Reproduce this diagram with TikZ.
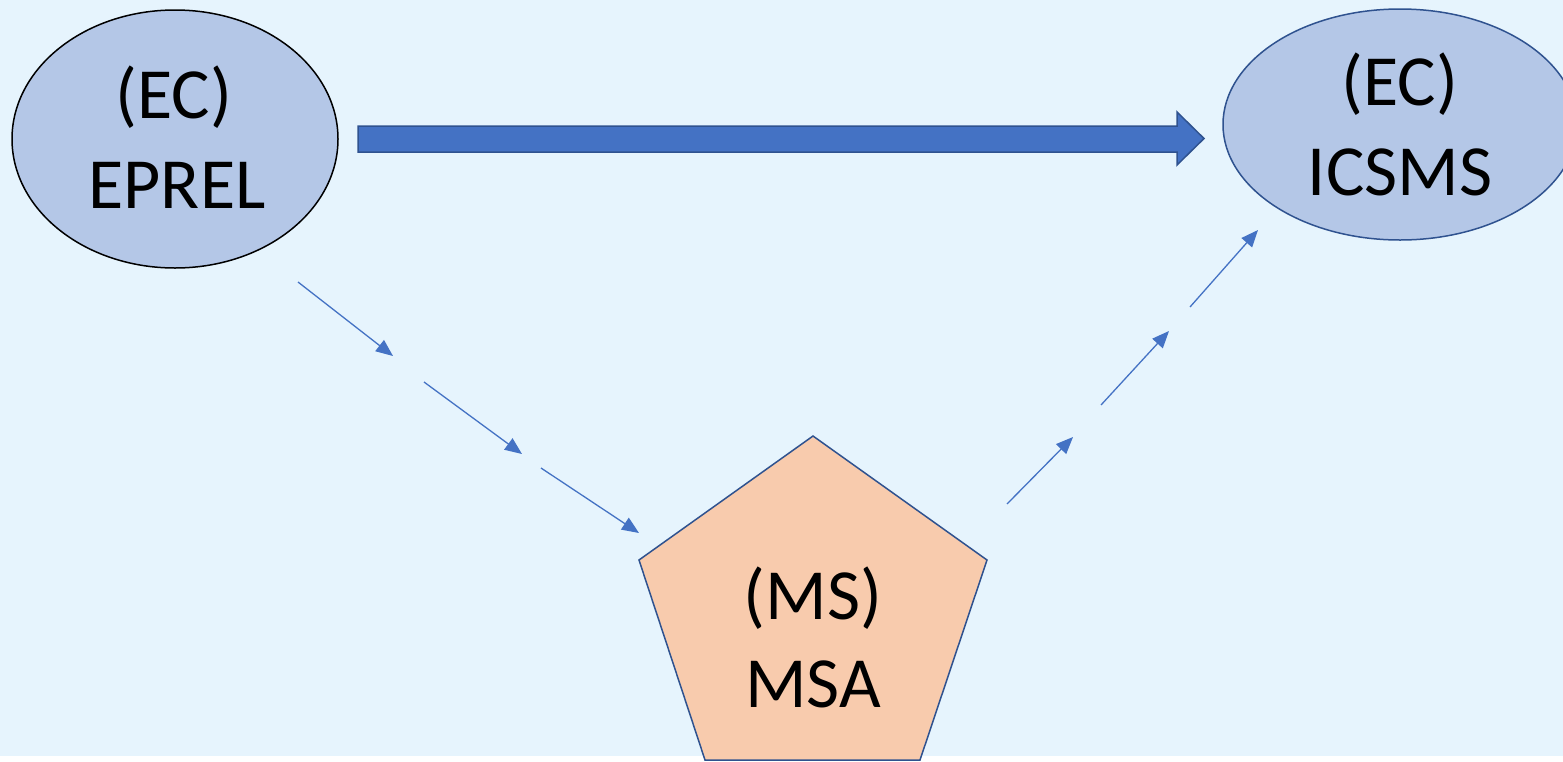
\documentclass[tikz,border=0pt]{standalone}
\usepackage{fontspec}
\setmainfont{Carlito}
\usetikzlibrary{arrows.meta,shapes.geometric}
\definecolor{bgblue}{HTML}{E6F4FD}
\definecolor{ecfill}{HTML}{B4C7E7}
\definecolor{msfill}{HTML}{F8CBAD}
\definecolor{darkline}{HTML}{2F528F}
\definecolor{accent}{HTML}{4472C4}
\tikzset{
  ecnode/.style={ellipse, fill=ecfill, inner sep=0pt, line width=1.5pt},
  lbl/.style={anchor=base, inner sep=0pt, font=\fontsize{72}{90}\selectfont},
  flowseg/.style={draw=accent, line width=1.3pt, -{Triangle[length=17pt,width=14pt]}},
  bigarrow/.style={fill=accent, draw=darkline, line width=1.5pt, line join=miter},
}
\begin{document}
\begin{tikzpicture}[x=1pt,y=-1pt]
\useasboundingbox (0,0) rectangle (1563,761);
\fill[white] (0,0) rectangle (1563,761);
\fill[bgblue] (0,0) rectangle (1563,756);

% nodes
\node[ecnode, draw=black, minimum width=326pt, minimum height=258pt] (eprel) at (175,139) {};
\node[ecnode, draw=darkline, minimum width=354pt, minimum height=231pt] (icsms) at (1400,124.5) {};
\draw[fill=msfill, draw=darkline, line width=1.5pt, line join=miter]
  (813,436) coordinate (pT) -- (987,560) coordinate (pR) -- (920,760) coordinate (pBR)
  -- (705,760) coordinate (pBL) -- (639,560) coordinate (pL) -- cycle;
\coordinate (msa) at (813,600);

% labels
\node[lbl] (eprelA) at (174,118) {(EC)};
\node[lbl] (eprelB) at (177,208) {EPREL};
\node[lbl] (icsmsA) at (1400,105) {(EC)};
\node[lbl] (icsmsB) at (1400,195) {ICSMS};
\node[lbl] (msaA) at (813,619) {(MS)};
\node[lbl] (msaB) at (813,707) {MSA};

% big block arrow EPREL -> ICSMS
\draw[bigarrow] (358,126) -- (1177,126) -- (1177,112) -- (1204,138.5)
  -- (1177,165) -- (1177,152) -- (358,152) -- cycle;

% dashed flow EPREL -> MSA
\coordinate (a1s) at (298,282); \coordinate (a1e) at (393,356);
\coordinate (a2s) at (424,382); \coordinate (a2e) at (522,454);
\coordinate (a3s) at (541,468); \coordinate (a3e) at (639,533);
\draw[flowseg] (a1s) -- (a1e);
\draw[flowseg] (a2s) -- (a2e);
\draw[flowseg] (a3s) -- (a3e);

% dashed flow MSA -> ICSMS
\coordinate (b1s) at (1007,504); \coordinate (b1e) at (1073,437);
\coordinate (b2s) at (1101,405); \coordinate (b2e) at (1169,331);
\coordinate (b3s) at (1190,307); \coordinate (b3e) at (1258,230);
\draw[flowseg] (b1s) -- (b1e);
\draw[flowseg] (b2s) -- (b2e);
\draw[flowseg] (b3s) -- (b3e);
\end{tikzpicture}
\end{document}
